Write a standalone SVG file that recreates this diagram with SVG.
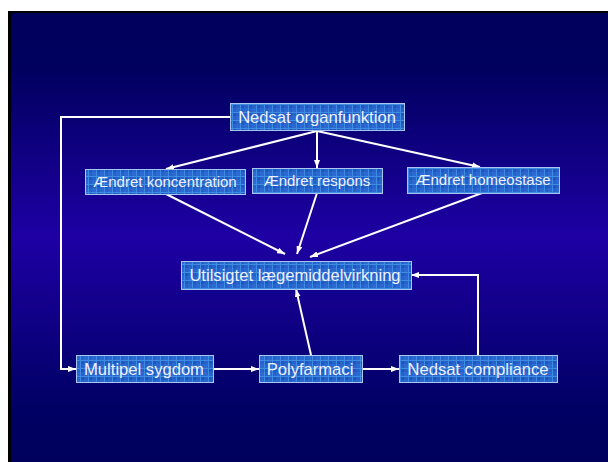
<svg xmlns="http://www.w3.org/2000/svg" width="608" height="462" viewBox="0 0 608 462">
<defs>
<linearGradient id="bg" x1="0" y1="0" x2="0" y2="1">
<stop offset="0" stop-color="#00005C"/>
<stop offset="0.12" stop-color="#00005E"/>
<stop offset="0.5" stop-color="#1E00A4"/>
<stop offset="0.88" stop-color="#000064"/>
<stop offset="1" stop-color="#00005C"/>
</linearGradient>
<pattern id="grid" width="8" height="8" patternUnits="userSpaceOnUse">
<rect width="8" height="8" fill="#2662CA"/>
<rect x="0" y="0" width="4" height="4" fill="#1F56C0"/>
<rect x="4" y="4" width="4" height="4" fill="#2C6AD2"/>
<path d="M0 0.5H8M0.5 0V8" stroke="#3E8CE2" stroke-width="1"/>
</pattern>
<marker id="ah" viewBox="0 0 8 6" refX="8" refY="3" markerWidth="8" markerHeight="6" orient="auto" markerUnits="userSpaceOnUse">
<path d="M0,0 L8,3 L0,6 z" fill="#FFFFFF"/>
</marker>
<style>
.box{fill:url(#grid);stroke:#A9C6F2;stroke-width:1}
.t{font-family:"Liberation Sans",Arial,sans-serif;fill:#F0F0FF;text-anchor:middle}
.lg{font-size:16.6px}
.md{font-size:15px}
.c{fill:none;stroke:#FFFFFF;stroke-width:2}
</style>
</defs>
<rect x="0" y="0" width="608" height="462" fill="#FFFFFF"/>
<rect x="8" y="11" width="600" height="451" fill="#000000"/>
<rect x="11" y="13" width="597" height="449" fill="url(#bg)"/>

<g id="connectors">
<line class="c" x1="317" y1="131" x2="166" y2="169" marker-end="url(#ah)"/>
<line class="c" x1="317" y1="131" x2="317" y2="168" marker-end="url(#ah)"/>
<line class="c" x1="317" y1="131" x2="480" y2="167" marker-end="url(#ah)"/>
<line class="c" x1="166" y1="194" x2="285" y2="254" marker-end="url(#ah)"/>
<line class="c" x1="317" y1="193" x2="297" y2="254" marker-end="url(#ah)"/>
<line class="c" x1="482" y1="193" x2="310" y2="257" marker-end="url(#ah)"/>
<polyline class="c" points="230,117 61,117 61,369 76,369" marker-end="url(#ah)"/>
<line class="c" x1="213" y1="369" x2="259" y2="369" marker-end="url(#ah)"/>
<line class="c" x1="362" y1="369" x2="399" y2="369" marker-end="url(#ah)"/>
<line class="c" x1="311" y1="355" x2="296" y2="289" marker-end="url(#ah)"/>
<polyline class="c" points="478,355 478,275 411,275" marker-end="url(#ah)"/>
</g>

<g id="n-organfunktion">
<rect class="box" x="230.5" y="103.5" width="174" height="27"/>
<text class="t lg" x="317" y="123">Nedsat organfunktion</text>
</g>
<g id="n-koncentration">
<rect class="box" x="85.5" y="169.5" width="160" height="25"/>
<text class="t md" x="165" y="187">Ændret koncentration</text>
</g>
<g id="n-respons">
<rect class="box" x="252.5" y="168.5" width="130" height="25"/>
<text class="t md" x="317" y="186">Ændret respons</text>
</g>
<g id="n-homeostase">
<rect class="box" x="407.5" y="167.5" width="152" height="26"/>
<text class="t md" x="483" y="185">Ændret homeostase</text>
</g>
<g id="n-utilsigtet">
<rect class="box" x="181.5" y="261.5" width="230" height="28"/>
<text class="t lg" x="295" y="281">Utilsigtet lægemiddelvirkning</text>
</g>
<g id="n-multipel">
<rect class="box" x="76.5" y="355.5" width="137" height="27"/>
<text class="t lg" x="144" y="375">Multipel sygdom</text>
</g>
<g id="n-polyfarmaci">
<rect class="box" x="259.5" y="355.5" width="103" height="27"/>
<text class="t lg" x="310" y="375">Polyfarmaci</text>
</g>
<g id="n-compliance">
<rect class="box" x="399.5" y="355.5" width="158" height="27"/>
<text class="t lg" x="478" y="375">Nedsat compliance</text>
</g>
</svg>
